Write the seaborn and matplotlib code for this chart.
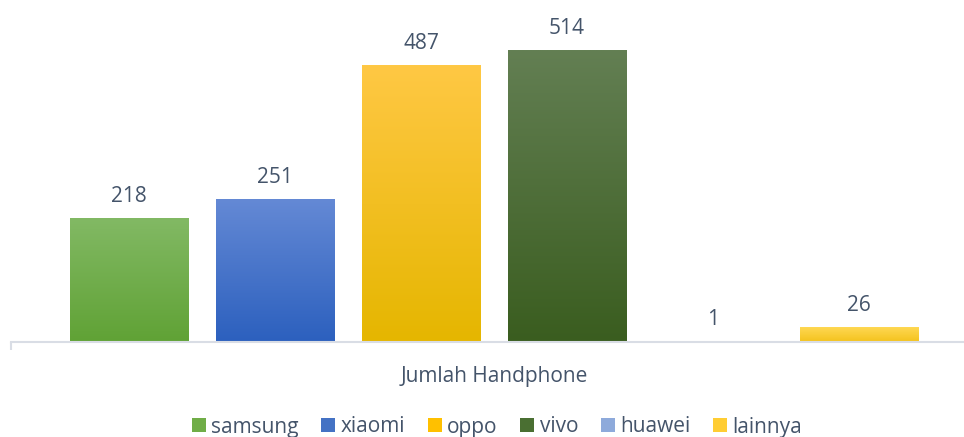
import numpy as np
import pandas as pd
import matplotlib
matplotlib.use("Agg")
import matplotlib.pyplot as plt
import seaborn as sns
from matplotlib.colors import LinearSegmentedColormap
from matplotlib.patches import Patch

# ---- data ----
category = ["Jumlah Handphone"]
brands = ["samsung", "xiaomi", "oppo", "vivo", "huawei", "lainnya"]
values = [218, 251, 487, 514, 1, 26]

# ---- style ----
top_colors = ["#82b964", "#6489d5", "#ffc844", "#637f53", "#9bb3df", "#ffd853"]
bot_colors = ["#60a235", "#2c60be", "#e5b600", "#3a5d1f", "#7e9bd3", "#f4c21c"]
mid_colors = ["#70ad47", "#4472c4", "#ffc000", "#4a6f32", "#8eaadb", "#ffcd33"]
text_color = "#44546a"
axis_color = "#d9dde5"

df = pd.DataFrame({"category": category * len(brands), "brand": brands, "value": values})

sns.set_theme(style="white")
plt.rcParams["font.family"] = ["Open Sans", "DejaVu Sans"]

W, H = 964, 437
fig = plt.figure(figsize=(W / 100, H / 100), dpi=100)
ymax = 600
ax_h = ymax * 0.568
ax = fig.add_axes([11 / W, (H - 342) / H, 966 / W, ax_h / H])

sns.barplot(data=df, x="category", y="value", hue="brand", hue_order=brands,
            palette=dict(zip(brands, mid_colors)), width=0.907, gap=0.19,
            legend=False, ax=ax, saturation=1)

# gradient fills
for i, cont in enumerate(ax.containers):
    cmap = LinearSegmentedColormap.from_list(f"g{i}", [bot_colors[i], top_colors[i]])
    for patch in cont:
        x, y = patch.get_x(), patch.get_y()
        w, h = patch.get_width(), patch.get_height()
        grad = np.linspace(0, 1, 256).reshape(-1, 1)
        im = ax.imshow(grad, extent=(x, x + w, y, y + h), origin="lower", aspect="auto",
                       cmap=cmap, zorder=patch.get_zorder() + 0.1, interpolation="bilinear")
        im.set_clip_path(patch)
        patch.set_edgecolor("none")
    ax.bar_label(cont, labels=[f"{v:g}" for v in cont.datavalues], padding=8,
                 fontsize=15, color=text_color)

ax.set_xlim(-0.5, 0.5)
ax.set_ylim(0, ymax)
ax.set_yticks([])
ax.set_xlabel("")
ax.set_ylabel("")
for s in ["top", "right", "left"]:
    ax.spines[s].set_visible(False)
ax.spines["bottom"].set_color(axis_color)
ax.spines["bottom"].set_linewidth(1.5)

ax.set_xticks([0])
ax.set_xticklabels(category, fontsize=15, color=text_color)
ax.tick_params(axis="x", which="major", length=0, pad=17, bottom=True)
ax.set_xticks([-0.5, 0.5], minor=True)
ax.tick_params(axis="x", which="minor", length=6, width=1.5, color=axis_color,
               direction="out", bottom=True)

handles = [Patch(facecolor=c, edgecolor="none") for c in mid_colors]
fig.legend(handles, brands, loc="center", bbox_to_anchor=(497 / W, 1 - 427 / H),
           ncol=6, frameon=False, fontsize=15, labelcolor=text_color,
           handlelength=0.67, handleheight=0.67, handletextpad=0.25, columnspacing=1.1)

fig.savefig("out.png", dpi=100)
